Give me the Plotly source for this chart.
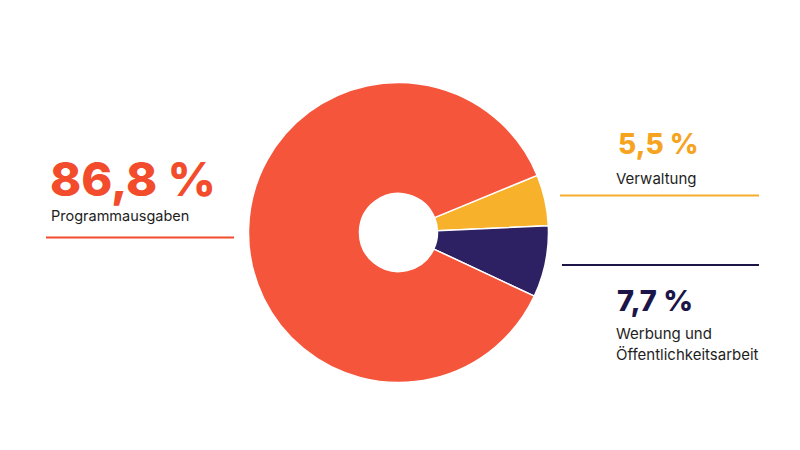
import plotly.graph_objects as go

W, H = 800, 450
OFF = 8  # page body margin

categories = ["Verwaltung", "Werbung und Öffentlichkeitsarbeit", "Programmausgaben"]
values = [5.5, 7.7, 86.8]
value_labels = ["5,5 %", "7,7 %", "86,8 %"]
slice_colors = ["#F7B12B", "#2E2163", "#F5553A"]
text_colors = ["#F6A41F", "#1C1548", "#F24C2C"]
line_colors = ["#F6AE2E", "#1C1548", "#F24C2C"]

def px(x):
    return (x - OFF) / W

def py(y):
    return 1 - (y - OFF) / H

cx, cy, r = 398.5, 232.5, 150

fig = go.Figure(go.Pie(
    labels=categories,
    values=values,
    sort=False,
    direction="clockwise",
    rotation=67.6,
    hole=0.26,
    textinfo="none",
    hoverinfo="label+percent",
    marker=dict(colors=slice_colors, line=dict(color="white", width=1.5)),
    domain=dict(x=[px(cx - r), px(cx + r)], y=[py(cy + r), py(cy - r)]),
    showlegend=False,
))

annotations = []
shapes = []

def add_text(text, x, y, size, color, weight=400):
    annotations.append(dict(
        text=text, x=px(x), y=py(y), xref="paper", yref="paper",
        xanchor="left", yanchor="middle", showarrow=False,
        font=dict(family="Inter", size=size, color=color, weight=weight),
    ))

# Programmausgaben (left)
add_text(value_labels[2], 48, 178, 47, text_colors[2], 800)
add_text(categories[2], 49, 216, 14.5, "#1E1E1E")
shapes.append(dict(type="line", xref="paper", yref="paper",
                   x0=px(46), x1=px(234), y0=py(237.5), y1=py(237.5),
                   line=dict(color=line_colors[2], width=2)))

# Verwaltung (right top)
add_text(value_labels[0], 616, 144, 28, text_colors[0], 800)
add_text(categories[0], 614, 178, 15, "#1E1E1E")
shapes.append(dict(type="line", xref="paper", yref="paper",
                   x0=px(560), x1=px(759), y0=py(195.5), y1=py(195.5),
                   line=dict(color=line_colors[0], width=2)))

# Werbung und Öffentlichkeitsarbeit (right bottom)
shapes.append(dict(type="line", xref="paper", yref="paper",
                   x0=px(562), x1=px(759), y0=py(265), y1=py(265),
                   line=dict(color=line_colors[1], width=2)))
add_text(value_labels[1], 615, 300, 29, text_colors[1], 800)
add_text("Werbung und", 614, 333, 15, "#1E1E1E")
add_text("Öffentlichkeitsarbeit", 614, 354, 15, "#1E1E1E")

fig.update_layout(
    width=W, height=H,
    margin=dict(l=0, r=0, t=0, b=0),
    paper_bgcolor="white",
    plot_bgcolor="white",
    annotations=annotations,
    shapes=shapes,
)

fig.write_html("out.html")
